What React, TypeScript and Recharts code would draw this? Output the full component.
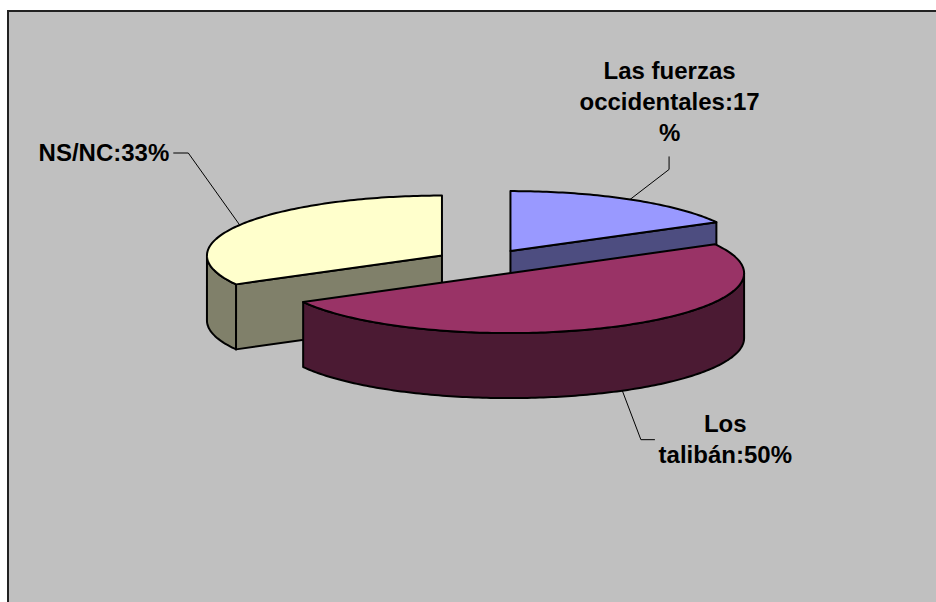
import React from 'react'
import { PieChart, Pie } from 'recharts'

// data
const categories = ['Las fuerzas occidentales', 'Los talibán', 'NS/NC']
const shares = [17, 50, 33]

const topColors = ['#9999FF', '#993366', '#FFFFCC']
const sideColors = ['#4D4D80', '#4B1A33', '#80806A']

const data = categories.map((name, i) => ({ name, value: shares[i] }))

// 3d look
const CX = 485
const CY = 262
const RADIUS = 235
const TILT = 0.255
const DEPTH = 65
const EXPLODE = 50
const FRONT = 1 // slice that sits in front and is painted last

// label placement, offsets from where the leader touches the slice
const labelLayout = [
  { wrap: 15, elbow: [39, -30], tail: [39, -43], text: [39.5, -120], anchor: 'middle' },
  { wrap: 12, elbow: [18.6, 49], tail: [32.6, 49], text: [103, 41], anchor: 'middle' },
  { wrap: 20, elbow: [-51.4, -72], tail: [-66.4, -72], text: [-70.4, -64.5], anchor: 'end' },
]

const FONT = '"Liberation Sans", Arial, Helvetica, sans-serif'
const LINE_H = 31

const rad = (d: number) => (d * Math.PI) / 180

function wrapLabel(text: string, max: number) {
  const lines: string[] = []
  let cur = ''
  for (const word of text.split(' ')) {
    let w = word
    const next = cur ? cur + ' ' + w : w
    if (next.length <= max) {
      cur = next
      continue
    }
    if (cur) lines.push(cur)
    while (w.length > max) {
      lines.push(w.slice(0, max))
      w = w.slice(max)
    }
    cur = w
  }
  if (cur) lines.push(cur)
  return lines
}

function sliceGeom(p: any) {
  const rx = p.outerRadius
  const ry = rx * TILT
  const a0 = Math.min(p.startAngle, p.endAngle)
  const a1 = Math.max(p.startAngle, p.endAngle)
  const mid = p.midAngle ?? (a0 + a1) / 2
  const cx = p.cx + EXPLODE * Math.cos(rad(mid))
  const cy = p.cy - EXPLODE * TILT * Math.sin(rad(mid))
  const rim = (a: number, dy = 0) => [cx + rx * Math.cos(rad(a)), cy - ry * Math.sin(rad(a)) + dy]
  return { rx, ry, a0, a1, mid, cx, cy, rim }
}

function arcPts(rim: (a: number, dy?: number) => number[], from: number, to: number, dy = 0) {
  const n = Math.max(2, Math.ceil(Math.abs(to - from)))
  const pts: string[] = []
  for (let k = 0; k <= n; k++) {
    const [x, y] = rim(from + ((to - from) * k) / n, dy)
    pts.push(`${x.toFixed(2)},${y.toFixed(2)}`)
  }
  return pts
}

function SliceBody({ p }: { p: any }) {
  const { a0, a1, cx, cy, rim } = sliceGeom(p)
  const i = p.index
  const stroke = { stroke: '#000', strokeWidth: 2, strokeLinejoin: 'round' as const }
  const faces: React.ReactNode[] = []

  const cut = (a: number, key: string) => {
    const [x, y] = rim(a)
    faces.push(
      <polygon
        key={key}
        points={`${cx},${cy} ${x},${y} ${x},${y + DEPTH} ${cx},${cy + DEPTH}`}
        fill={sideColors[i]}
        {...stroke}
      />
    )
  }
  if (Math.cos(rad(a0)) > 1e-6) cut(a0, 'c0')
  if (Math.cos(rad(a1)) < -1e-6) cut(a1, 'c1')

  for (let k = -2; k <= 1; k++) {
    const lo = Math.max(a0, -180 + 360 * k)
    const hi = Math.min(a1, 360 * k)
    if (hi - lo > 0.01) {
      const pts = [...arcPts(rim, lo, hi), ...arcPts(rim, hi, lo, DEPTH)]
      faces.push(<polygon key={'w' + k} points={pts.join(' ')} fill={sideColors[i]} {...stroke} />)
    }
  }

  const top = [`${cx},${cy}`, ...arcPts(rim, a0, a1)]
  faces.push(<polygon key="top" points={top.join(' ')} fill={topColors[i]} {...stroke} />)
  return <g>{faces}</g>
}

function SliceLabel({ p }: { p: any }) {
  const { rx, ry, mid, cx, cy } = sliceGeom(p)
  const lay = labelLayout[p.index]
  const down = Math.sin(rad(mid)) < 0 ? DEPTH : 0
  const ax = cx + rx * Math.cos(rad(mid))
  const ay = cy - ry * Math.sin(rad(mid)) + down
  const name = p.name ?? p.payload?.name
  const lines = wrapLabel(`${name}:${p.value}%`, lay.wrap)
  return (
    <g>
      <polyline
        points={`${ax},${ay} ${ax + lay.elbow[0]},${ay + lay.elbow[1]} ${ax + lay.tail[0]},${ay + lay.tail[1]}`}
        fill="none"
        stroke="#000"
        strokeWidth={1}
      />
      <text
        x={ax + lay.text[0]}
        y={ay + lay.text[1]}
        textAnchor={lay.anchor as any}
        fontFamily={FONT}
        fontWeight="bold"
        fontSize={24}
        fill="#000"
      >
        {lines.map((l, k) => (
          <tspan key={k} x={ax + lay.text[0]} dy={k === 0 ? 0 : LINE_H}>
            {l}
          </tspan>
        ))}
      </text>
    </g>
  )
}

const renderBack = (p: any) => (p.index === FRONT ? <g /> : <SliceBody p={p} />)

const renderFront = (p: any) => (
  <g>
    {p.index === FRONT && <SliceBody p={p} />}
    <SliceLabel p={p} />
  </g>
)

export default function App() {
  return (
    <div
      style={{
        position: 'fixed',
        left: 0,
        top: 0,
        width: 936,
        height: 602,
        overflow: 'hidden',
        background: '#fff',
      }}
    >
      <div
        style={{
          position: 'absolute',
          left: 7,
          top: 10,
          width: 940,
          height: 600,
          background: '#C0C0C0',
          borderTop: '2px solid #222',
          borderLeft: '2px solid #222',
        }}
      />
      <div style={{ position: 'absolute', left: 0, top: 0 }}>
        <PieChart width={936} height={602} margin={{ top: 0, right: 0, bottom: 0, left: 0 }}>
          <Pie
            data={data}
            dataKey="value"
            nameKey="name"
            cx={CX}
            cy={CY}
            outerRadius={RADIUS}
            startAngle={90}
            endAngle={-270}
            fill="none"
            stroke="none"
            labelLine={false}
            label={renderBack}
            isAnimationActive={false}
          />
          <Pie
            data={data}
            dataKey="value"
            nameKey="name"
            cx={CX}
            cy={CY}
            outerRadius={RADIUS}
            startAngle={90}
            endAngle={-270}
            fill="none"
            stroke="none"
            labelLine={false}
            label={renderFront}
            isAnimationActive={false}
          />
        </PieChart>
      </div>
    </div>
  )
}
